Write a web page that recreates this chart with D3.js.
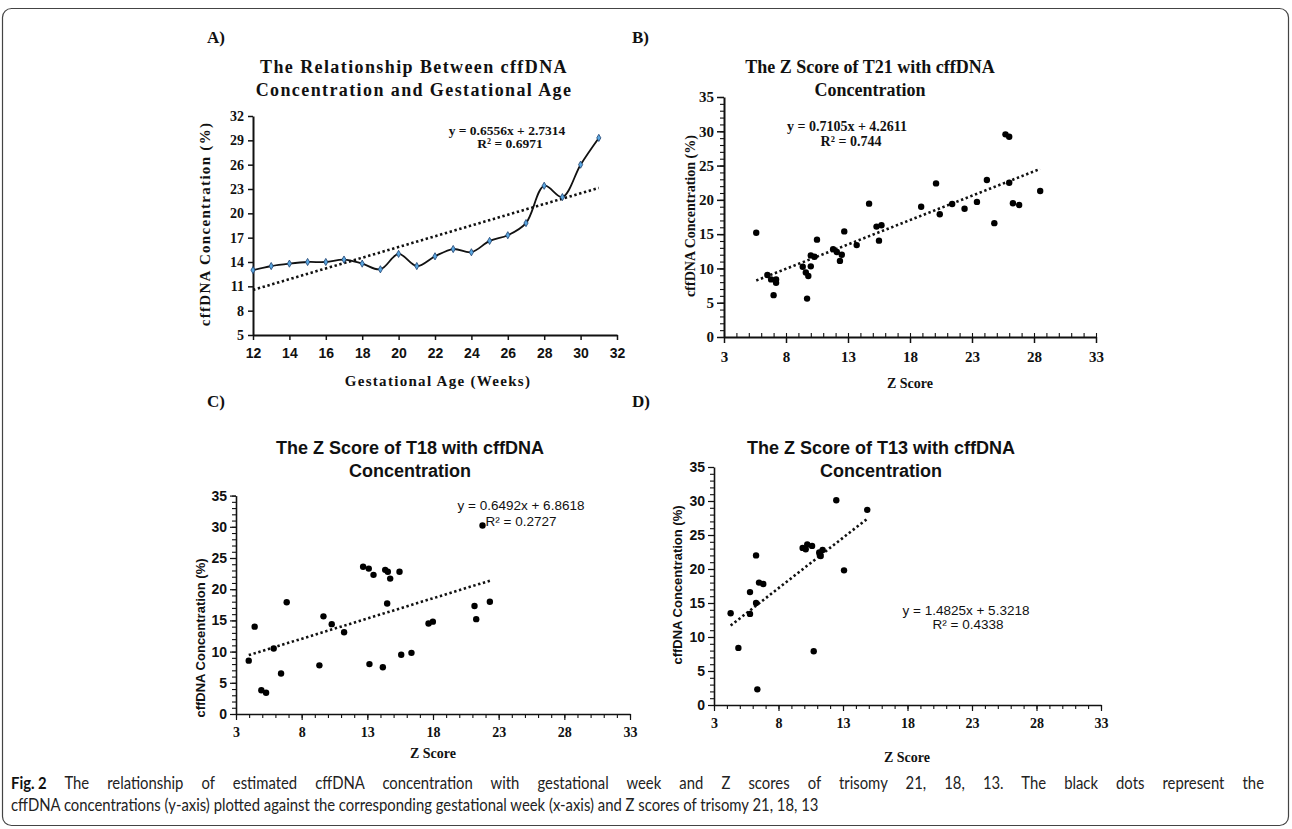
<!DOCTYPE html>
<html><head><meta charset="utf-8">
<script src="https://cdn.jsdelivr.net/npm/d3@7"></script>
<style>body{margin:0;background:#fff}svg{display:block}</style>
</head><body><svg id="fig" width="1292" height="829"></svg>
<script>
// ---------------- DATA ----------------
// Panel A: cffDNA concentration by gestational week
const weeksA = [12,13,14,15,16,17,18,19,20,21,22,23,24,25,26,27,28,29,30,31];
const concA  = [13.0,13.5,13.8,14.0,14.0,14.3,13.8,13.1,15.0,13.5,14.7,15.6,15.2,16.6,17.3,18.8,23.4,22.0,26.0,29.3];
const xTicksA = [12,14,16,18,20,22,24,26,28,30,32];
const yTicksA = [5,8,11,14,17,20,23,26,29,32];
const eqA = ["y = 0.6556x + 2.7314", "R² = 0.6971"];

// Panel B: T21
const zT21    = [5.6,6.5,6.8,7.2,7.2,7.0,9.35,9.6,9.8,9.7,10.0,10.3,10.0,10.5,11.8,12.1,12.35,12.5,12.7,13.7,14.7,15.3,15.7,15.5,20.1,18.9,20.4,21.4,22.4,23.4,24.2,24.8,25.7,26.0,26.0,26.3,26.8,28.5];
const concT21 = [15.2,9.05,8.4,8.4,7.9,6.1,10.25,9.4,8.9,5.6,11.9,11.7,10.3,14.2,12.8,12.4,11.1,12.0,15.4,13.4,19.45,16.1,16.3,14.05,22.4,19.0,17.9,19.4,18.7,19.7,22.9,16.6,29.55,29.2,22.5,19.5,19.25,21.3];
const fitT21 = [0.7105, 4.2611];
const eqT21 = ["y = 0.7105x + 4.2611", "R² = 0.744"];

// Panel C: T18
const zT18    = [3.97,4.42,4.93,5.29,5.87,6.43,6.86,9.35,9.66,10.29,11.23,12.68,13.11,13.47,13.16,14.18,14.36,14.56,14.74,14.51,15.45,15.58,16.36,17.66,17.99,21.16,21.29,22.33,21.77];
const concT18 = [8.55,14.0,3.8,3.4,10.5,6.5,17.9,7.8,15.65,14.4,13.1,23.6,23.3,22.3,8.0,7.5,23.1,22.8,21.7,17.7,22.8,9.5,9.8,14.5,14.8,17.3,15.2,18.0,30.2];
const fitT18 = [0.6492, 6.8618];
const eqT18 = ["y = 0.6492x + 6.8618", "R² = 0.2727"];

// Panel D: T13
const zT13    = [4.29,4.89,5.79,5.79,6.26,6.26,6.49,6.82,6.36,9.87,10.11,10.23,10.6,10.73,11.16,11.27,11.42,11.19,12.48,13.08,14.88];
const concT13 = [13.5,8.4,16.6,13.4,22.0,15.0,18.0,17.8,2.3,23.1,22.9,23.6,23.4,7.9,22.45,21.9,22.8,22.2,30.1,19.8,28.7];
const fitT13 = [1.4825, 5.3218];
const eqT13 = ["y = 1.4825x + 5.3218", "R² = 0.4338"];

const zTicks = [3,8,13,18,23,28,33];
const zMinor = d3.range(3,34,1);
const concTicks = [0,5,10,15,20,25,30,35];
const concMinor = d3.range(0,36,1);

const titles = {
  A: ["The Relationship Between cffDNA", "Concentration and Gestational Age"],
  B: ["The Z Score of T21 with cffDNA", "Concentration"],
  C: ["The Z Score of T18 with cffDNA", "Concentration"],
  D: ["The Z Score of T13 with cffDNA", "Concentration"]
};
const yLabel = "cffDNA  Concentration (%)";
const captionLead = "Fig. 2";
const caption1 = "The relationship of estimated cffDNA concentration with gestational week and Z scores of trisomy 21, 18, 13. The black dots represent the";
const caption2 = "cffDNA concentrations (y-axis) plotted against the corresponding gestational week (x-axis) and Z scores of trisomy 21, 18, 13";

// ---------------- DRAW ----------------
const SERIF = "'Liberation Serif','Times New Roman',serif";
const SANS = "'Liberation Sans',Arial,sans-serif";
const svg = d3.select('#fig');

svg.append('rect').attr('x',2.5).attr('y',8.5).attr('width',1286).attr('height',817)
  .attr('rx',9).attr('fill','none').attr('stroke','#444').attr('stroke-width',1.2);

function txt(x,y,s,font,size,opt={}){
  const t = svg.append('text').attr('x',x).attr('y',y).text(s)
    .attr('font-family',font).attr('font-size',size)
    .attr('font-weight',opt.weight||'bold').attr('fill','#111')
    .attr('text-anchor',opt.anchor||'start');
  if(opt.ls) t.attr('letter-spacing',opt.ls);
  if(opt.rot) t.attr('transform',`rotate(-90,${x},${y})`);
  return t;
}

function styleAxis(g, sw, font, size){
  g.select('.domain').attr('stroke','#111').attr('stroke-width',sw);
  g.selectAll('.tick line').attr('stroke','#111').attr('stroke-width',Math.max(1,sw*0.75));
  g.selectAll('.tick text').attr('font-family',font).attr('font-size',size).attr('font-weight','bold').attr('fill','#111');
}

function axes(p){
  const y0 = p.y.range()[0], x0 = p.x.range()[0];
  if(p.xMinor){
    const gm = svg.append('g').attr('transform',`translate(0,${y0})`)
      .call(d3.axisBottom(p.x).tickValues(p.xMinor).tickSize(p.xMinorLen).tickFormat('').tickSizeOuter(0));
    gm.select('.domain').remove();
    gm.selectAll('.tick line').attr('stroke','#111').attr('stroke-width',1.1);
  }
  if(p.yMinor){
    const gm = svg.append('g').attr('transform',`translate(${x0},0)`)
      .call(d3.axisLeft(p.y).tickValues(p.yMinor).tickSize(p.yMinorLen).tickFormat('').tickSizeOuter(0));
    gm.select('.domain').remove();
    gm.selectAll('.tick line').attr('stroke','#111').attr('stroke-width',1.1);
  }
  const gx = svg.append('g').attr('transform',`translate(0,${y0})`)
    .call(d3.axisBottom(p.x).tickValues(p.xTicks).tickSize(p.xLen).tickPadding(p.xPad).tickSizeOuter(0));
  styleAxis(gx, p.sw, p.xFont, p.xSize);
  const gy = svg.append('g').attr('transform',`translate(${x0},0)`)
    .call(d3.axisLeft(p.y).tickValues(p.yTicks).tickSize(p.yLen).tickPadding(p.yPad).tickSizeOuter(0));
  styleAxis(gy, p.sw, p.yFont, p.ySize);
}

function dots(x,y,xs,ys){
  svg.append('g').selectAll('circle').data(xs.map((d,i)=>[d,ys[i]])).join('circle')
    .attr('cx',d=>x(d[0])).attr('cy',d=>y(d[1])).attr('r',3.2).attr('fill','#000');
}
function trend(x,y,xs,fit){
  const ext = d3.extent(xs);
  const pts = ext.map(v=>[v, fit[0]*v+fit[1]]);
  svg.append('path').attr('d',d3.line().x(d=>x(d[0])).y(d=>y(d[1]))(pts))
    .attr('fill','none').attr('stroke','#111').attr('stroke-width',2.6).attr('stroke-dasharray','2.4,2.6');
}

// ---- Panel A ----
{
  const x = d3.scaleLinear().domain([12,32]).range([253,617]);
  const y = d3.scaleLinear().domain([5,32]).range([335,116]);
  txt(207,43,'A)',SERIF,17);
  txt(414,73,titles.A[0],SERIF,18,{anchor:'middle',ls:'1.4px'});
  txt(414,96,titles.A[1],SERIF,18,{anchor:'middle',ls:'1.4px'});
  axes({x,y,xTicks:xTicksA,yTicks:yTicksA,xLen:5,yLen:5,xPad:8,yPad:4,sw:2,
        xFont:SANS,xSize:14,yFont:SERIF,ySize:14});
  // regression trend computed from the data
  const mx=d3.mean(weeksA), my=d3.mean(concA);
  const b = d3.sum(weeksA,(v,i)=>(v-mx)*(concA[i]-my))/d3.sum(weeksA,v=>(v-mx)*(v-mx));
  trend(x,y,weeksA,[b,my-b*mx]);
  svg.append('path').datum(weeksA.map((w,i)=>[w,concA[i]]))
    .attr('d',d3.line().x(d=>x(d[0])).y(d=>y(d[1])).curve(d3.curveCatmullRom.alpha(0.5)))
    .attr('fill','none').attr('stroke','#111').attr('stroke-width',1.8);
  svg.append('g').selectAll('path').data(weeksA.map((w,i)=>[w,concA[i]])).join('path')
    .attr('transform',d=>`translate(${x(d[0])},${y(d[1])})`)
    .attr('d',d3.symbol(d3.symbolDiamond,15)).attr('fill','#5aa7e0').attr('stroke','#1f4170').attr('stroke-width',0.8);
  txt(507,135,eqA[0],SERIF,13.5,{anchor:'middle'});
  txt(510,148,eqA[1],SERIF,13.5,{anchor:'middle'});
  txt(210,224,yLabel,SERIF,15,{anchor:'middle',rot:true,ls:'1.3px'});
  txt(438,386,'Gestational Age (Weeks)',SERIF,15,{anchor:'middle',ls:'1.3px'});
}

// ---- Panel B ----
{
  const x = d3.scaleLinear().domain([3,33]).range([724,1096]);
  const y = d3.scaleLinear().domain([0,35]).range([337,97]);
  txt(632,43,'B)',SERIF,17);
  txt(870,73,titles.B[0],SERIF,18,{anchor:'middle'});
  txt(870,96,titles.B[1],SERIF,18,{anchor:'middle'});
  axes({x,y,xTicks:zTicks,yTicks:concTicks,xMinor:zMinor,yMinor:concMinor,xMinorLen:-4,yMinorLen:4,
        xLen:6,yLen:7,xPad:8,yPad:3,sw:2,xFont:SERIF,xSize:15,yFont:SERIF,ySize:15});
  trend(x,y,zT21,fitT21);
  dots(x,y,zT21,concT21);
  txt(847,131,eqT21[0],SERIF,14,{anchor:'middle'});
  txt(851,146,eqT21[1],SERIF,14,{anchor:'middle'});
  txt(695,216,yLabel,SERIF,14,{anchor:'middle',rot:true});
  txt(910,388,'Z Score',SERIF,14,{anchor:'middle'});
}

// ---- Panel C ----
{
  const x = d3.scaleLinear().domain([3,33]).range([236,630]);
  const y = d3.scaleLinear().domain([0,35]).range([714,495.6]);
  txt(207,407,'C)',SERIF,17);
  txt(410,454,titles.C[0],SANS,18,{anchor:'middle'});
  txt(410,477,titles.C[1],SANS,18,{anchor:'middle'});
  axes({x,y,xTicks:zTicks,yTicks:concTicks,xMinor:zMinor,yMinor:concMinor,xMinorLen:4,yMinorLen:4,
        xLen:6,yLen:6,xPad:7,yPad:3,sw:1.6,xFont:SERIF,xSize:14,yFont:SANS,ySize:14});
  trend(x,y,zT18,fitT18);
  dots(x,y,zT18,concT18);
  txt(521,510,eqT18[0],SANS,13.5,{anchor:'middle',weight:'normal'});
  txt(521,526,eqT18[1],SANS,13.5,{anchor:'middle',weight:'normal'});
  txt(205,638,yLabel,SANS,13,{anchor:'middle',rot:true});
  txt(433,758,'Z Score',SERIF,14,{anchor:'middle'});
}

// ---- Panel D ----
{
  const x = d3.scaleLinear().domain([3,33]).range([714,1101]);
  const y = d3.scaleLinear().domain([0,35]).range([705,467]);
  txt(632,407,'D)',SERIF,17);
  txt(881,454,titles.D[0],SANS,18,{anchor:'middle'});
  txt(881,477,titles.D[1],SANS,18,{anchor:'middle'});
  axes({x,y,xTicks:zTicks,yTicks:concTicks,xMinor:zMinor,yMinor:concMinor,xMinorLen:4,yMinorLen:4,
        xLen:6,yLen:6,xPad:7,yPad:3,sw:1.6,xFont:SERIF,xSize:14,yFont:SANS,ySize:14});
  trend(x,y,zT13,fitT13);
  dots(x,y,zT13,concT13);
  txt(966,615,eqT13[0],SANS,13.5,{anchor:'middle',weight:'normal'});
  txt(968,629,eqT13[1],SANS,13.5,{anchor:'middle',weight:'normal'});
  txt(682,585,yLabel,SANS,13,{anchor:'middle',rot:true});
  txt(907,762,'Z Score',SERIF,14,{anchor:'middle'});
}

// ---- Caption (condensed face, justified first line) ----
{
  const CF = "Lato,'Noto Sans',sans-serif";
  const sx = 0.9;
  const g = svg.append('g').attr('transform',`translate(11,0) scale(${sx},1)`);
  const t1 = g.append('text').attr('x',0).attr('y',789).attr('font-family',CF).attr('font-size',16.5).attr('fill','#222');
  t1.append('tspan').attr('font-weight','bold').attr('fill','#111').attr('word-spacing',0).text(captionLead);
  const body = t1.append('tspan').text(' ' + caption1);
  const natural = t1.node().getComputedTextLength();
  const spaces = (' ' + caption1).split(' ').length - 1;
  body.attr('word-spacing', Math.max(0,((1264 - 11)/sx - natural)/spaces));
  g.append('text').attr('x',0).attr('y',811).attr('font-family',CF).attr('font-size',16.5).attr('fill','#222')
    .text(caption2);
}
</script>
</body></html>
